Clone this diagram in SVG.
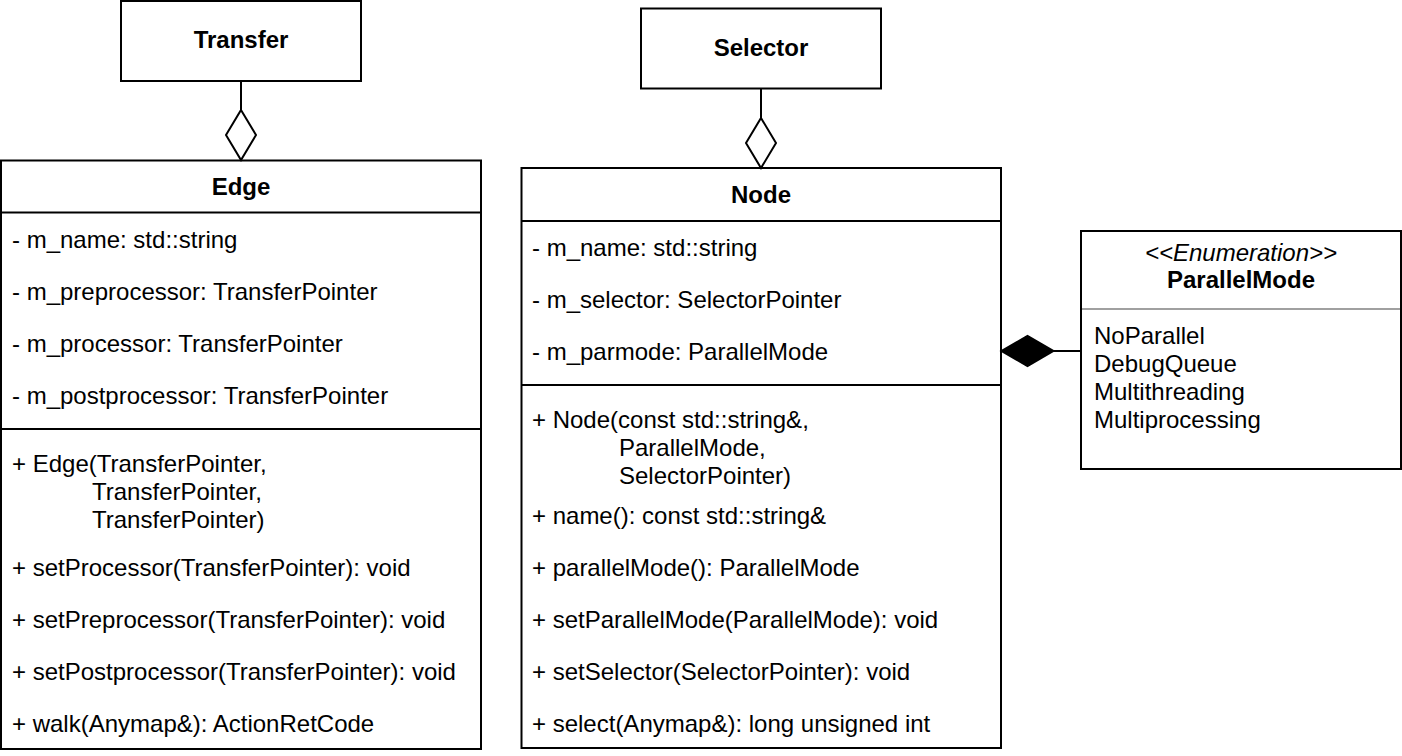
<svg xmlns="http://www.w3.org/2000/svg" width="1402" height="756" viewBox="0 0 1402 756">
<style>
text{font-family:"Liberation Sans",Arial,Helvetica,sans-serif;font-size:24px;fill:#000}
.b{font-weight:bold;text-anchor:middle}
.c{text-anchor:middle}
.i{font-style:italic}
.box{fill:#fff;stroke:#000;stroke-width:2}
.ln{stroke:#000;stroke-width:2;fill:none}
.gl{stroke:#a0a0a0;stroke-width:2;fill:none}
</style>
<defs>
<marker id="aggr" markerUnits="userSpaceOnUse" viewBox="0 0 50 30" markerWidth="50" markerHeight="30" refX="50" refY="15" orient="auto" overflow="visible">
<path d="M0,15 L25,0 L50,15 L25,30 Z" fill="#fff" stroke="#000" stroke-width="2"/>
</marker>
<marker id="comp" markerUnits="userSpaceOnUse" viewBox="0 0 52 30" markerWidth="52" markerHeight="30" refX="52" refY="15" orient="auto" overflow="visible">
<path d="M0,15 L26,0 L52,15 L26,30 Z" fill="#000" stroke="#000" stroke-width="2"/>
</marker>
</defs>
<rect width="1402" height="756" fill="#fff"/>

<g id="Transfer">
<rect class="box" x="121" y="1" width="240" height="80"/>
<text class="b" x="241" y="48">Transfer</text>
</g>

<g id="Selector">
<rect class="box" x="641" y="8.5" width="240" height="80"/>
<text class="b" x="761" y="56">Selector</text>
</g>

<g id="Edge">
<rect class="box" x="1" y="160.5" width="480" height="588.5"/>
<line class="ln" x1="1" y1="212.5" x2="481" y2="212.5"/>
<line class="ln" x1="1" y1="429" x2="481" y2="429"/>
<text class="b" x="241" y="195">Edge</text>
<text x="12" y="248">- m_name: std::string</text>
<text x="12" y="300">- m_preprocessor: TransferPointer</text>
<text x="12" y="352">- m_processor: TransferPointer</text>
<text x="12" y="404">- m_postprocessor: TransferPointer</text>
<text x="12" y="472">+ Edge(TransferPointer,</text>
<text x="92" y="500">TransferPointer,</text>
<text x="92" y="528">TransferPointer)</text>
<text x="12" y="576">+ setProcessor(TransferPointer): void</text>
<text x="12" y="628">+ setPreprocessor(TransferPointer): void</text>
<text x="12" y="680">+ setPostprocessor(TransferPointer): void</text>
<text x="12" y="732">+ walk(Anymap&amp;): ActionRetCode</text>
</g>

<g id="Node">
<rect class="box" x="521.5" y="168" width="479.5" height="580"/>
<line class="ln" x1="521.5" y1="221" x2="1001" y2="221"/>
<line class="ln" x1="521.5" y1="385" x2="1001" y2="385"/>
<text class="b" x="761" y="203">Node</text>
<text x="532" y="256">- m_name: std::string</text>
<text x="532" y="308">- m_selector: SelectorPointer</text>
<text x="532" y="360">- m_parmode: ParallelMode</text>
<text x="532" y="428">+ Node(const std::string&amp;,</text>
<text x="619" y="456">ParallelMode,</text>
<text x="619" y="484">SelectorPointer)</text>
<text x="532" y="524">+ name(): const std::string&amp;</text>
<text x="532" y="576">+ parallelMode(): ParallelMode</text>
<text x="532" y="628">+ setParallelMode(ParallelMode): void</text>
<text x="532" y="680">+ setSelector(SelectorPointer): void</text>
<text x="532" y="732">+ select(Anymap&amp;): long unsigned int</text>
</g>

<g id="ParallelMode">
<rect class="box" x="1081" y="231" width="320" height="238"/>
<line class="gl" x1="1082" y1="309" x2="1400" y2="309"/>
<text class="c i" x="1241" y="261">&lt;&lt;Enumeration&gt;&gt;</text>
<text class="b" x="1241" y="288">ParallelMode</text>
<text x="1094" y="344">NoParallel</text>
<text x="1094" y="372">DebugQueue</text>
<text x="1094" y="400">Multithreading</text>
<text x="1094" y="428">Multiprocessing</text>
</g>

<g id="connectors">
<path class="ln" d="M241,81 L241,160" marker-end="url(#aggr)"/>
<path class="ln" d="M761,88.5 L761,168" marker-end="url(#aggr)"/>
<path class="ln" d="M1081,351 L1001.5,351" marker-end="url(#comp)"/>
</g>
</svg>
